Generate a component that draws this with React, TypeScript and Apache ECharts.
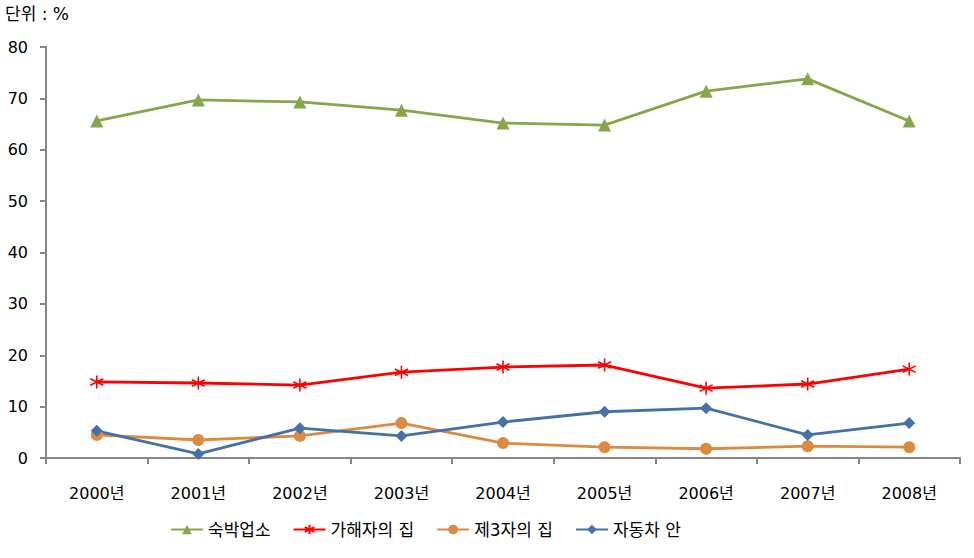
import React, { useEffect, useRef } from "react";
import * as echarts from "echarts";

const categories = ["2000년", "2001년", "2002년", "2003년", "2004년", "2005년", "2006년", "2007년", "2008년"];
const seriesNames = ["숙박업소", "가해자의 집", "제3자의 집", "자동차 안"];
const lodging = [65.6, 69.7, 69.3, 67.7, 65.2, 64.8, 71.4, 73.8, 65.6];
const offenderHome = [14.8, 14.6, 14.2, 16.7, 17.7, 18.1, 13.6, 14.4, 17.3];
const thirdPartyHome = [4.5, 3.5, 4.3, 6.8, 2.9, 2.1, 1.8, 2.3, 2.1];
const inCar = [5.3, 0.8, 5.8, 4.3, 7.0, 9.0, 9.7, 4.5, 6.8];
const yTicks = { min: 0, max: 80, interval: 10 };

const FONT = "'DejaVu Sans', 'Noto Sans CJK KR', sans-serif";
const STAR = "path://M5 0 L5 10 M0.7 2.5 L9.3 7.5 M0.7 7.5 L9.3 2.5";

export default function App() {
  const ref = useRef<HTMLDivElement>(null);
  useEffect(() => {
    if (!ref.current) return;
    const chart = echarts.init(ref.current, null, { renderer: "svg" });
    const mk = (name: string, data: number[], color: string, symbol: string, size: number, extra: any = {}) => ({
      name,
      type: "line",
      data,
      symbol,
      symbolSize: size,
      showSymbol: true,
      lineStyle: { color, width: 2.8 },
      itemStyle: { color, ...extra },
      emphasis: { disabled: true },
    });
    chart.setOption({
      animation: false,
      textStyle: { fontFamily: FONT },
      graphic: [
        {
          type: "text",
          left: 5,
          top: 5,
          style: { text: "단위 : %", font: `17px ${FONT}`, fill: "#000" },
        },
      ],
      grid: { left: 46, right: 14, top: 47, bottom: 100, containLabel: false },
      legend: {
        bottom: 15,
        left: 165,
        itemWidth: 32,
        itemHeight: 12,
        itemGap: 22,
        textStyle: { fontSize: 17, color: "#000", fontFamily: FONT },
        data: seriesNames,
      },
      xAxis: {
        type: "category",
        data: categories,
        boundaryGap: true,
        axisLine: { lineStyle: { color: "#868686", width: 2 } },
        axisTick: { show: true, length: 6, lineStyle: { color: "#868686", width: 2 } },
        axisLabel: { color: "#000", fontSize: 16, margin: 27, fontFamily: FONT },
        splitLine: { show: false },
      },
      yAxis: {
        type: "value",
        min: yTicks.min,
        max: yTicks.max,
        interval: yTicks.interval,
        axisLine: { show: true, lineStyle: { color: "#868686", width: 2 } },
        axisTick: { show: true, length: 6, lineStyle: { color: "#868686", width: 2 } },
        axisLabel: { color: "#000", fontSize: 16, margin: 18, fontFamily: FONT },
        splitLine: { show: false },
      },
      series: [
        mk(seriesNames[0], lodging, "#88A54B", "triangle", 13),
        mk(seriesNames[1], offenderHome, "#FF0000", STAR, 13, { borderColor: "#FF0000", borderWidth: 1.6 }),
        mk(seriesNames[2], thirdPartyHome, "#DD8A41", "circle", 12),
        mk(seriesNames[3], inCar, "#4471A7", "diamond", 12),
      ],
    });
    return () => chart.dispose();
  }, []);
  return <div ref={ref} style={{ position: "absolute", left: 0, top: 0, width: 974, height: 558 }} />;
}
